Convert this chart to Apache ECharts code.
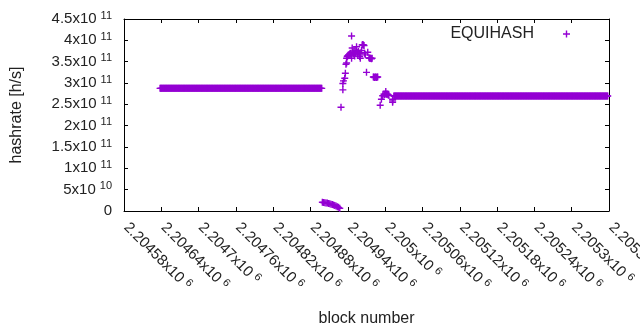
<!DOCTYPE html>
<html lang="en">
<head>
    <meta charset="UTF-8">
    <title>EQUIHASH hashrate</title>
    <script src="https://cdn.jsdelivr.net/npm/echarts@6/dist/echarts.min.js"></script>
    <style>
        body { margin: 0; background: #fff; }
    </style>
</head>
<body>
<div id="main" style="width: 640px; height: 330px;"></div>
<script type="text/javascript">
    // runs of consecutive blocks with one constant hashrate: [firstBlock, lastBlock, hashrate]
    var flatRuns = [
        [2204638, 2204898, 2.875e11],
        [2205014, 2205358, 2.695e11]
    ];

    // the low tail that drops to zero after the first flat part: [block, hashrate]
    var lowTail = [
        [2204899, 2.05e10], [2204901, 2.0e10], [2204903, 1.95e10], [2204905, 1.9e10],
        [2204907, 1.85e10], [2204909, 1.78e10], [2204911, 1.7e10], [2204913, 1.6e10],
        [2204915, 1.5e10], [2204917, 1.4e10], [2204919, 1.3e10], [2204921, 1.15e10],
        [2204923, 1.0e10], [2204925, 0.85e10], [2204927, 0.65e10]
    ];

    // scattered points of the peak: [block, hashrate]
    var peakPoints = [
        [2204929, 2.43e11], [2204932, 2.84e11], [2204932, 2.99e11], [2204933, 3.05e11],
        [2204935, 3.11e11], [2204936, 3.23e11], [2204937, 3.44e11], [2204938, 3.47e11],
        [2204938, 3.58e11], [2204939, 3.62e11], [2204940, 3.64e11], [2204941, 3.66e11],
        [2204942, 3.65e11], [2204943, 3.68e11], [2204944, 3.70e11], [2204945, 3.66e11],
        [2204946, 4.10e11], [2204946, 3.58e11], [2204947, 3.82e11], [2204948, 3.72e11],
        [2204949, 3.68e11], [2204950, 3.75e11], [2204951, 3.63e11], [2204952, 3.70e11],
        [2204953, 3.77e11], [2204954, 3.85e11], [2204955, 3.72e11], [2204956, 3.66e11],
        [2204957, 3.74e11], [2204958, 3.69e11], [2204959, 3.62e11], [2204960, 3.58e11],
        [2204961, 3.71e11], [2204962, 3.76e11], [2204963, 3.89e11], [2204964, 3.90e11],
        [2204965, 3.89e11], [2204966, 3.88e11], [2204967, 3.70e11], [2204968, 3.66e11],
        [2204970, 3.25e11], [2204972, 3.72e11],
        [2204974, 3.59e11], [2204975, 3.58e11], [2204976, 3.58e11], [2204977, 3.58e11],
        [2204978, 3.57e11], [2204979, 3.58e11],
        [2204981, 3.14e11], [2204982, 3.14e11], [2204983, 3.13e11], [2204984, 3.14e11],
        [2204985, 3.14e11], [2204986, 3.13e11], [2204987, 3.14e11], [2204988, 3.14e11],
        [2204992, 2.48e11], [2204994, 2.62e11], [2204996, 2.70e11],
        [2204998, 2.74e11], [2204999, 2.73e11], [2205000, 2.74e11], [2205001, 2.80e11],
        [2205002, 2.74e11], [2205003, 2.73e11], [2205004, 2.74e11], [2205005, 2.72e11],
        [2205006, 2.71e11],
        [2205012, 2.58e11], [2205012, 2.55e11], [2205012, 2.62e11]
    ];

    var xMin = 2204580, xMax = 2205360, xStep = 60;
    var yMin = 0, yMax = 4.5e11, yStep = 5e10;

    var data = [];
    flatRuns.forEach(function (r) {
        for (var b = r[0]; b <= r[1]; b++) data.push([b, r[2]]);
    });
    data = data.concat(lowTail, peakPoints);

    var purple = '#9400d3';
    // gnuplot "+" point, arms a little over 1px so that dense runs fill in solid
    var plus = 'path://M0,2.8H7V4.2H0Z M2.8,0H4.2V7H2.8Z';

    // gnuplot style "2.20458x10^6"
    function sci(v) {
        if (v === 0) return '{b|0}';
        var e = Math.floor(Math.log10(v) + 1e-9);
        var m = v / Math.pow(10, e);
        var ms = m.toFixed(5).replace(/\.?0+$/, '');
        return '{b|' + ms + 'x10}{s|' + e + '}';
    }

    var rich = {
        b: { fontSize: 15, lineHeight: 18, fontFamily: 'Liberation Sans', color: '#222' },
        s: { fontSize: 11, lineHeight: 11, verticalAlign: 'top', padding: [0, 0, 0, 4], fontFamily: 'Liberation Sans', color: '#222' }
    };

    var lineStyle = { color: '#000', width: 1 };
    var nameFont = { fontSize: 16, fontFamily: 'Liberation Sans', color: '#222' };

    var chart = echarts.init(document.getElementById('main'));
    chart.setOption({
        animation: false,
        backgroundColor: '#fff',
        grid: { left: 124, right: 31, top: 19, bottom: 119, containLabel: false, outerBoundsMode: 'none' },
        legend: {
            right: 65,
            top: 21,
            align: 'right',
            itemWidth: 7,
            itemHeight: 7,
            textStyle: { fontSize: 16, fontFamily: 'Liberation Sans', color: '#222', padding: [0, 24, 0, 0] },
            data: [{ name: 'EQUIHASH', icon: plus }]
        },
        xAxis: [{
            type: 'value',
            min: xMin, max: xMax, interval: xStep,
            name: 'block number',
            nameLocation: 'middle',
            nameGap: 100,
            nameTextStyle: nameFont,
            axisLine: { show: true, onZero: false, lineStyle: lineStyle },
            axisTick: { inside: true, length: 4, lineStyle: lineStyle },
            splitLine: { show: false },
            axisLabel: {
                rotate: -45, margin: 12, padding: [0, 0, 0, 3],
                showMinLabel: true, showMaxLabel: true, hideOverlap: false,
                formatter: sci, rich: rich
            }
        }, {
            type: 'value', position: 'top',
            min: xMin, max: xMax, interval: xStep,
            axisLine: { show: true, onZero: false, lineStyle: lineStyle },
            axisTick: { inside: true, length: 4, lineStyle: lineStyle },
            axisLabel: { show: false },
            splitLine: { show: false }
        }],
        yAxis: [{
            type: 'value',
            min: yMin, max: yMax, interval: yStep,
            name: 'hashrate [h/s]',
            nameLocation: 'middle',
            nameGap: 99,
            nameTextStyle: nameFont,
            axisLine: { show: true, onZero: false, lineStyle: lineStyle },
            axisTick: { inside: true, length: 4, lineStyle: lineStyle },
            splitLine: { show: false },
            axisLabel: { margin: 12, formatter: sci, rich: rich }
        }, {
            type: 'value', position: 'right',
            min: yMin, max: yMax, interval: yStep,
            axisLine: { show: true, onZero: false, lineStyle: lineStyle },
            axisTick: { inside: true, length: 4, lineStyle: lineStyle },
            axisLabel: { show: false },
            splitLine: { show: false }
        }],
        series: [{
            name: 'EQUIHASH',
            type: 'scatter',
            symbol: plus,
            symbolSize: 7,
            itemStyle: { color: purple, opacity: 1 },
            clip: false,
            data: data
        }]
    });
</script>
</body>
</html>
